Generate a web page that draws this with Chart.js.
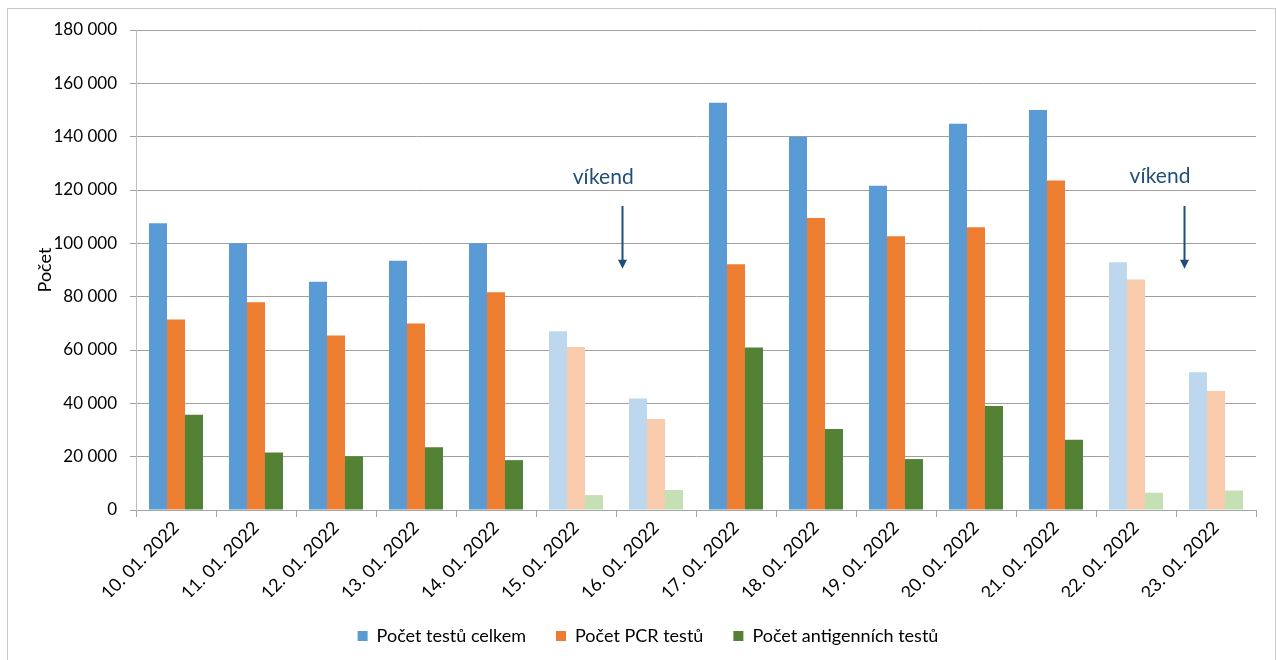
<!DOCTYPE html>
<html lang="cs">
<head>
<meta charset="utf-8">
<title>Počet testů</title>
<script src="https://cdn.jsdelivr.net/npm/chart.js@4/dist/chart.umd.min.js"></script>
<style>
  html, body { margin: 0; padding: 0; background: #ffffff; }
  #wrap { position: relative; width: 1276px; height: 660px; }
</style>
</head>
<body>
<div id="wrap"><canvas id="chart" width="1276" height="660"></canvas></div>
<script>
// Daily test counts, 10.–23. 1. 2022
const dates = [
  '10. 01. 2022', '11. 01. 2022', '12. 01. 2022', '13. 01. 2022', '14. 01. 2022',
  '15. 01. 2022', '16. 01. 2022', '17. 01. 2022', '18. 01. 2022', '19. 01. 2022',
  '20. 01. 2022', '21. 01. 2022', '22. 01. 2022', '23. 01. 2022'
];
const totalTests = [107500, 100000, 85600, 93500, 100000, 67000, 41800, 152700, 140000, 121600, 144800, 150000, 92900, 51700];
const pcrTests = [71400, 77900, 65400, 69900, 81700, 61100, 34100, 92200, 109500, 102700, 106000, 123600, 86400, 44600];
const antigenTests = [35700, 21600, 20200, 23500, 18700, 5600, 7500, 60900, 30400, 19100, 39000, 26300, 6500, 7300];
const weekendDays = [false, false, false, false, false, true, true, false, false, false, false, false, true, true];
const seriesNames = ['Počet testů celkem', 'Počet PCR testů', 'Počet antigenních testů'];
const weekendLabel = 'víkend';
const yMax = 180000;
const yStep = 20000;

const FONT = 'Lato, "Open Sans", "DejaVu Sans", sans-serif';

// weekday / weekend colours per series
const palette = [
  { main: '#5B9BD5', light: '#BDD7EE' },
  { main: '#ED7D31', light: '#F8CBAD' },
  { main: '#548235', light: '#C5E0B4' }
];

// weekend callouts, placed in category/value coordinates
const weekendNotes = [
  { textAt: 5.34, textY: 124800, arrowAt: 5.58, arrowFrom: 114000, arrowTo: 90500 },
  { textAt: 12.3, textY: 125200, arrowAt: 12.6, arrowFrom: 114000, arrowTo: 90500 }
];

function barColour(p) {
  return (ctx) => (ctx.type === 'data' && weekendDays[ctx.dataIndex]) ? p.light : p.main;
}

const frame = {
  id: 'frame',
  beforeDraw(chart) {
    const c = chart.ctx;
    c.save();
    c.strokeStyle = '#C8C8C8';
    c.lineWidth = 1;
    c.strokeRect(7.5, 8.5, 1268, 660);
    c.restore();
  }
};

const weekendCallouts = {
  id: 'weekendCallouts',
  afterDatasetsDraw(chart) {
    const c = chart.ctx;
    const x = chart.scales.x, y = chart.scales.y;
    c.save();
    c.fillStyle = '#1F4E79';
    c.strokeStyle = '#1F4E79';
    c.font = '21px ' + FONT;
    c.textAlign = 'center';
    c.textBaseline = 'middle';
    weekendNotes.forEach(n => {
      c.fillText(weekendLabel, x.getPixelForValue(n.textAt), y.getPixelForValue(n.textY));
      const ax = Math.round(x.getPixelForValue(n.arrowAt)) + 0.5;
      const y0 = y.getPixelForValue(n.arrowFrom);
      const y1 = y.getPixelForValue(n.arrowTo);
      c.lineWidth = 2;
      c.beginPath();
      c.moveTo(ax, y0);
      c.lineTo(ax, y1 - 8);
      c.stroke();
      c.beginPath();
      c.moveTo(ax - 4.5, y1 - 9);
      c.lineTo(ax + 4.5, y1 - 9);
      c.lineTo(ax, y1);
      c.closePath();
      c.fill();
    });
    c.restore();
  }
};

const datasets = [totalTests, pcrTests, antigenTests].map((vals, i) => ({
  label: seriesNames[i],
  data: vals,
  backgroundColor: barColour(palette[i]),
  borderWidth: 0,
  categoryPercentage: 0.675,
  barPercentage: 1.0
}));

new Chart(document.getElementById('chart'), {
  type: 'bar',
  data: { labels: dates, datasets },
  options: {
    responsive: false,
    animation: false,
    layout: { padding: { left: 20, right: 0, top: 30, bottom: 5 } },
    plugins: {
      tooltip: { enabled: false },
      legend: {
        position: 'bottom',
        labels: {
          boxWidth: 10,
          boxHeight: 10,
          padding: 30,
          color: '#000000',
          font: { family: FONT, size: 18 }
        }
      }
    },
    scales: {
      x: {
        offset: true,
        grid: {
          offset: true,
          drawOnChartArea: false,
          drawTicks: true,
          tickLength: 7,
          color: '#A6A6A6'
        },
        border: { color: '#A6A6A6', width: 1 },
        ticks: {
          minRotation: 45,
          maxRotation: 45,
          padding: 0,
          color: '#000000',
          font: { family: FONT, size: 18 }
        },
        afterFit(scale) { scale.height = 87; }
      },
      y: {
        min: 0,
        max: yMax,
        grid: {
          color: '#A0A0A0',
          lineWidth: 1,
          drawTicks: true,
          tickLength: 6
        },
        border: { color: '#BFBFBF', width: 1 },
        ticks: {
          stepSize: yStep,
          padding: 13,
          color: '#000000',
          font: { family: FONT, size: 17 },
          callback: (v) => String(v).replace(/\B(?=(\d{3})+(?!\d))/g, ' ')
        },
        title: {
          display: true,
          text: 'Počet',
          color: '#000000',
          padding: { top: 14, bottom: 0 },
          font: { family: FONT, size: 18 }
        },
        afterFit(scale) { scale.width = 116; }
      },
      // empty right-hand margin beside the plot
      yRight: {
        position: 'right',
        display: true,
        grid: { display: false, drawTicks: false },
        border: { display: false },
        ticks: { display: false },
        afterFit(scale) { scale.width = 20; }
      }
    }
  },
  plugins: [frame, weekendCallouts]
});
</script>
</body>
</html>
